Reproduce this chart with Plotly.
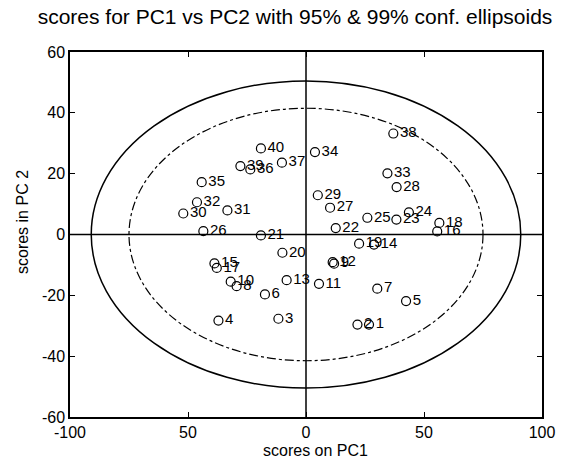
import plotly.graph_objects as go

# sample scores (PC1, PC2) and their labels
labels = ["1", "2", "3", "4", "5", "6", "7", "8", "9", "10",
          "11", "12", "13", "14", "15", "16", "17", "18", "19", "20",
          "21", "22", "23", "24", "25", "26", "27", "28", "29", "30",
          "31", "32", "33", "34", "35", "36", "37", "38", "39", "40"]
pc1 = [26.7, 21.8, -11.7, -37.1, 42.4, -17.4, 30.2, -29.4, 11.9, -31.9,
       5.5, 11.3, -8.2, 28.8, -38.8, 55.6, -37.8, 56.5, 22.5, -10.0,
       -19.1, 12.6, 38.3, 43.6, 26.0, -43.5, 10.2, 38.4, 5.0, -52.0,
       -33.3, -46.2, 34.5, 3.8, -44.2, -23.6, -10.2, 37.0, -27.8, -19.1]
pc2 = [-29.6, -29.6, -27.7, -28.3, -21.9, -19.7, -17.8, -17.0, -9.6, -15.5,
       -16.2, -9.1, -15.0, -3.3, -9.5, 1.0, -11.0, 3.8, -3.0, -6.0,
       -0.3, 2.1, 4.9, 7.3, 5.5, 1.1, 8.8, 15.6, 12.9, 6.9,
       7.9, 10.6, 20.1, 27.1, 17.2, 21.4, 23.6, 33.2, 22.5, 28.3]

# confidence ellipse semi-axes (PC1, PC2)
ell99 = [91.0, 50.5]
ell95 = [75.0, 41.5]

x_ticks = [-100, -50, 0, 50, 100]
x_ticktext = ["-100", "50", "0", "50", "100"]
y_ticks = [60, 40, 20, 0, -20, -40, -60]
y_ticktext = ["60", "40", "20", "0", "-20", "-40", "-60"]

FONT = "Liberation Sans, Arial, Helvetica, sans-serif"

fig = go.Figure()
fig.add_trace(go.Scatter(
    x=pc1, y=pc2, mode="markers+text", text=labels,
    textposition="middle right",
    textfont=dict(family=FONT, size=15, color="black"),
    marker=dict(symbol="circle-open", size=9, color="black", line=dict(width=1.2)),
    cliponaxis=False, showlegend=False, hoverinfo="skip"))

# ellipses
fig.add_shape(type="circle", xref="x", yref="y",
              x0=-ell99[0], x1=ell99[0], y0=-ell99[1], y1=ell99[1],
              line=dict(color="black", width=1.5))
fig.add_shape(type="circle", xref="x", yref="y",
              x0=-ell95[0], x1=ell95[0], y0=-ell95[1], y1=ell95[1],
              line=dict(color="black", width=1.2, dash="dashdot"))
# zero lines
fig.add_shape(type="line", xref="x", yref="y", x0=0, x1=0, y0=-60, y1=60,
              line=dict(color="black", width=1.5))
fig.add_shape(type="line", xref="x", yref="y", x0=-100, x1=100, y0=0, y1=0,
              line=dict(color="black", width=1.5))

fig.update_xaxes(range=[-100, 100], tickvals=x_ticks, ticktext=x_ticktext,
                 ticks="inside", ticklen=5, tickcolor="black", mirror="allticks",
                 showline=True, linecolor="black", linewidth=1.5,
                 showgrid=False, zeroline=False,
                 tickfont=dict(family=FONT, size=16, color="black"))
fig.update_yaxes(range=[-60, 60], tickvals=y_ticks, ticktext=y_ticktext,
                 ticks="inside", ticklen=5, tickcolor="black", mirror="allticks",
                 showline=True, linecolor="black", linewidth=1.5,
                 showgrid=False, zeroline=False,
                 tickfont=dict(family=FONT, size=16, color="black"))

fig.update_layout(
    width=579, height=460,
    margin=dict(l=70, r=37, t=52, b=43),
    paper_bgcolor="white", plot_bgcolor="white",
    title=dict(text="scores for PC1 vs PC2 with 95% & 99% conf. ellipsoids",
               x=(295) / 579, xanchor="center", y=1 - 17 / 460, yanchor="middle",
               font=dict(family=FONT, size=21, color="black")),
    annotations=[
        dict(text="scores on PC1", xref="paper", yref="paper",
             x=(315 - 70) / 472, y=-(450 - 417) / 365, xanchor="center", yanchor="middle",
             showarrow=False, font=dict(family=FONT, size=16, color="black")),
        dict(text="scores in PC 2", xref="paper", yref="paper", textangle=-90,
             x=-(70 - 22) / 472, y=(417 - 222) / 365, xanchor="center", yanchor="middle",
             showarrow=False, font=dict(family=FONT, size=16, color="black")),
    ],
)

fig.write_html("out.html")
